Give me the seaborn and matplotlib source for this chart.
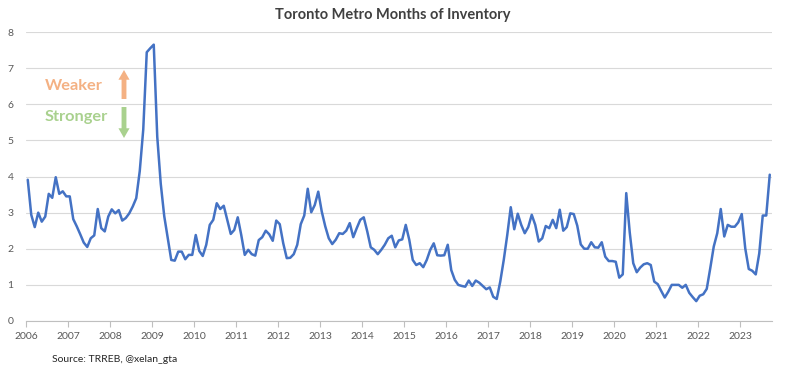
import matplotlib
matplotlib.use('Agg')
import matplotlib.pyplot as plt
import seaborn as sns
import pandas as pd
import numpy as np

# monthly months-of-inventory, Jan..Dec each year
y2006 = [3.91, 2.94, 2.60, 3.00, 2.75, 2.89, 3.52, 3.41, 3.98, 3.52, 3.59, 3.45]
y2007 = [3.45, 2.82, 2.62, 2.40, 2.17, 2.05, 2.29, 2.37, 3.10, 2.57, 2.48, 2.89]
y2008 = [3.09, 2.98, 3.07, 2.78, 2.85, 2.98, 3.17, 3.40, 4.15, 5.30, 7.44, 7.55]
y2009 = [7.65, 5.10, 3.80, 2.90, 2.30, 1.69, 1.67, 1.92, 1.92, 1.71, 1.83, 1.83]
y2010 = [2.38, 1.94, 1.80, 2.11, 2.66, 2.80, 3.26, 3.10, 3.19, 2.80, 2.41, 2.52]
y2011 = [2.87, 2.38, 1.83, 1.97, 1.85, 1.81, 2.24, 2.32, 2.50, 2.40, 2.22, 2.78]
y2012 = [2.68, 2.15, 1.74, 1.75, 1.85, 2.11, 2.68, 2.92, 3.66, 3.01, 3.21, 3.58]
y2013 = [3.03, 2.62, 2.29, 2.13, 2.25, 2.43, 2.41, 2.50, 2.71, 2.32, 2.57, 2.80]
y2014 = [2.87, 2.48, 2.04, 1.97, 1.85, 1.97, 2.11, 2.29, 2.36, 2.04, 2.23, 2.26]
y2015 = [2.66, 2.25, 1.69, 1.55, 1.60, 1.49, 1.69, 1.97, 2.15, 1.82, 1.81, 1.82]
y2016 = [2.11, 1.41, 1.14, 1.00, 0.97, 0.95, 1.12, 0.97, 1.12, 1.06, 0.97, 0.88]
y2017 = [0.93, 0.67, 0.61, 1.09, 1.69, 2.38, 3.15, 2.54, 2.97, 2.66, 2.43, 2.60]
y2018 = [2.94, 2.66, 2.20, 2.29, 2.63, 2.57, 2.80, 2.57, 3.08, 2.50, 2.60, 2.98]
y2019 = [2.96, 2.64, 2.12, 2.00, 2.00, 2.18, 2.04, 2.03, 2.18, 1.78, 1.66, 1.66]
y2020 = [1.64, 1.20, 1.29, 3.54, 2.45, 1.60, 1.35, 1.48, 1.57, 1.60, 1.55, 1.09]
y2021 = [1.02, 0.83, 0.65, 0.81, 1.00, 1.00, 1.00, 0.92, 1.00, 0.78, 0.66, 0.55]
y2022 = [0.70, 0.74, 0.89, 1.46, 2.06, 2.43, 3.10, 2.34, 2.66, 2.61, 2.61, 2.73]
y2023 = [2.96, 2.01, 1.44, 1.39, 1.29, 1.87, 2.92, 2.92, 4.05]  # Jan..Sep

years = list(range(2006, 2024))
values = (y2006 + y2007 + y2008 + y2009 + y2010 + y2011 + y2012 + y2013 + y2014
          + y2015 + y2016 + y2017 + y2018 + y2019 + y2020 + y2021 + y2022 + y2023)

dates = pd.date_range('2006-01-01', periods=len(values), freq='MS')
df = pd.DataFrame({'date': dates, 'moi': values})
# position each month in the middle of its slot on a year axis
df['x'] = df['date'].dt.year + (df['date'].dt.month - 0.5) / 12

sns.set_style('white')
plt.rcParams['font.family'] = ['Lato', 'DejaVu Sans']

fig = plt.figure(figsize=(7.85, 3.76), dpi=100)
ax = fig.add_axes([26 / 785, 1 - 321 / 376, 745.5 / 785, 289 / 376])

sns.lineplot(data=df, x='x', y='moi', ax=ax, color='#4472C4', linewidth=1.8)

ax.set_xlim(2006, 2006 + len(values) / 12)
ax.set_ylim(0, 8)
ax.set_yticks(range(0, 9))
ax.set_xticks(years)
ax.set_xticklabels([str(y) for y in years])
ax.set_xlabel('')
ax.set_ylabel('')
ax.yaxis.grid(True, color='#D9D9D9', linewidth=0.8)
ax.set_axisbelow(True)

for s in ['top', 'right', 'left']:
    ax.spines[s].set_visible(False)
ax.spines['bottom'].set_color('#BFBFBF')
ax.spines['bottom'].set_linewidth(0.8)
ax.tick_params(axis='y', length=0, pad=9, labelsize=7.5, labelcolor='#595959')
ax.tick_params(axis='x', direction='out', length=4, width=0.8, color='#BFBFBF',
               pad=4, labelsize=7.5, labelcolor='#595959', bottom=True)

fig.text(0.5, 1 - 15 / 376, 'Toronto Metro Months of Inventory', ha='center', va='center',
         fontsize=10.5, fontweight='bold', color='#404040')

fig.text(45 / 785, 1 - 86 / 376, 'Weaker', ha='left', va='center',
         fontsize=11.8, fontweight='bold', color='#F4B183')
fig.text(45 / 785, 1 - 117 / 376, 'Stronger', ha='left', va='center',
         fontsize=11.8, fontweight='bold', color='#A9D18E')
ax.annotate('', xy=(124 / 785, 1 - 70 / 376), xytext=(124 / 785, 1 - 99 / 376),
            xycoords='figure fraction', textcoords='figure fraction',
            arrowprops=dict(width=3.5, headwidth=8, headlength=7, shrink=0,
                            color='#F4B183', lw=0))
ax.annotate('', xy=(124 / 785, 1 - 138 / 376), xytext=(124 / 785, 1 - 107 / 376),
            xycoords='figure fraction', textcoords='figure fraction',
            arrowprops=dict(width=3.5, headwidth=8, headlength=7, shrink=0,
                            color='#A9D18E', lw=0))

fig.text(52 / 785, 1 - 359 / 376, 'Source: TRREB, @xelan_gta', ha='left', va='center',
         fontsize=7.5, color='#262626')

fig.savefig('out.png', dpi=100)
